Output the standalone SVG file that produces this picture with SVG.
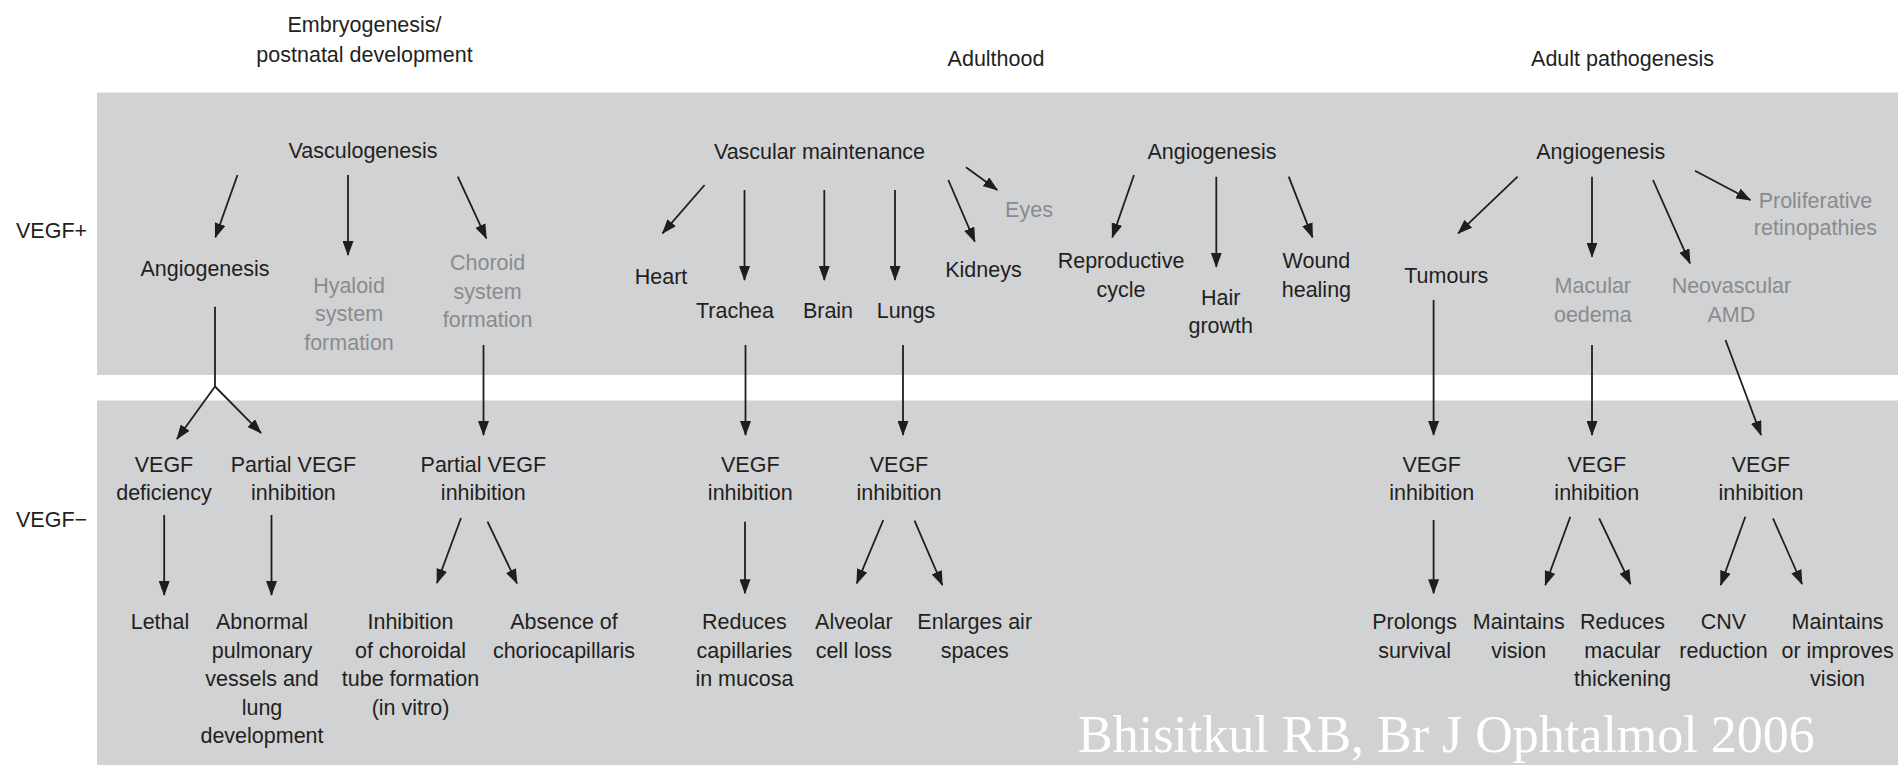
<svg xmlns="http://www.w3.org/2000/svg" width="1901" height="765" viewBox="0 0 1901 765">
<defs>
<marker id="ah" markerUnits="userSpaceOnUse" markerWidth="15" markerHeight="11" viewBox="0 0 15 11" refX="14" refY="5.5" orient="auto">
<path d="M0,0 L15,5.5 L0,11 z" fill="#1e1e1e"/>
</marker>
<style>
text{font-family:"Liberation Sans",Arial,sans-serif;font-size:21.5px;fill:#231f20;text-anchor:middle}
.g{fill:#8a8b8d}
.l{text-anchor:start}
.wm{font-family:"Liberation Serif","Times New Roman",serif;font-size:52px;fill:#ffffff;text-anchor:start}
.c line,.c path{stroke:#1e1e1e;stroke-width:1.8;fill:none}
.a{marker-end:url(#ah)}
.p{fill:#d1d2d4}
</style>
</defs>
<rect width="1901" height="765" fill="#ffffff"/>
<rect class="p" x="97" y="92.5" width="1801" height="282.5"/>
<rect class="p" x="97" y="400.5" width="1801" height="365"/>

<g id="headers">
<text x="364.5" y="32">Embryogenesis/</text>
<text x="364.5" y="62">postnatal development</text>
<text x="996" y="66">Adulthood</text>
<text x="1622.5" y="66">Adult pathogenesis</text>
</g>
<g id="side-labels">
<text class="l" x="16" y="238">VEGF+</text>
<text class="l" x="16" y="527">VEGF−</text>
</g>

<g class="c" id="connectors">
<line class="a" x1="237.5" y1="175" x2="215.4" y2="237.3"/>
<line class="a" x1="348" y1="175" x2="348" y2="255"/>
<line class="a" x1="457.8" y1="176.7" x2="486.3" y2="238.3"/>
<line x1="215" y1="306.7" x2="215" y2="386.5"/>
<line class="a" x1="215" y1="386.5" x2="177" y2="439"/>
<line class="a" x1="215" y1="386.5" x2="261" y2="433"/>
<line class="a" x1="483.5" y1="345" x2="483.5" y2="435"/>
<line class="a" x1="164.2" y1="515" x2="164.2" y2="595"/>
<line class="a" x1="271.5" y1="515" x2="271.5" y2="595"/>
<line class="a" x1="461" y1="518" x2="437" y2="583"/>
<line class="a" x1="487.5" y1="521.7" x2="517" y2="583.3"/>
<line class="a" x1="704.6" y1="185" x2="662.5" y2="233.3"/>
<line class="a" x1="744.5" y1="190" x2="744.5" y2="280"/>
<line class="a" x1="824.3" y1="190" x2="824.3" y2="280"/>
<line class="a" x1="895" y1="190" x2="895" y2="280"/>
<line class="a" x1="948.3" y1="180" x2="974.8" y2="241.7"/>
<line class="a" x1="966" y1="167.3" x2="997.3" y2="190"/>
<line class="a" x1="745.5" y1="345" x2="745.5" y2="435"/>
<line class="a" x1="903" y1="345" x2="903" y2="435"/>
<line class="a" x1="745" y1="521.7" x2="745" y2="593.3"/>
<line class="a" x1="883.3" y1="520" x2="856.8" y2="583.3"/>
<line class="a" x1="914.5" y1="520.7" x2="942.3" y2="585"/>
<line class="a" x1="1134" y1="175" x2="1112.3" y2="237.3"/>
<line class="a" x1="1216.3" y1="176.7" x2="1216.3" y2="266.7"/>
<line class="a" x1="1288.7" y1="176.7" x2="1312.5" y2="237.3"/>
<line class="a" x1="1517.6" y1="176.7" x2="1458.2" y2="233.3"/>
<line class="a" x1="1592" y1="176.7" x2="1592" y2="256.7"/>
<line class="a" x1="1653" y1="180" x2="1690" y2="263.3"/>
<line class="a" x1="1695" y1="170.7" x2="1750.4" y2="200"/>
<line class="a" x1="1433.6" y1="300" x2="1433.6" y2="435"/>
<line class="a" x1="1592" y1="345" x2="1592" y2="435"/>
<line class="a" x1="1725.5" y1="340" x2="1761" y2="435"/>
<line class="a" x1="1433.6" y1="520" x2="1433.6" y2="593.3"/>
<line class="a" x1="1570.3" y1="516.7" x2="1545.3" y2="585"/>
<line class="a" x1="1599.2" y1="518.3" x2="1630.5" y2="584"/>
<line class="a" x1="1745.3" y1="516.7" x2="1720.7" y2="585"/>
<line class="a" x1="1773" y1="518.3" x2="1802" y2="584"/>
</g>

<g id="n-vasculogenesis"><text x="363" y="158">Vasculogenesis</text></g>
<g id="n-angiogenesis1"><text x="205" y="276">Angiogenesis</text></g>
<g id="n-hyaloid"><text class="g" x="349" y="293">Hyaloid</text><text class="g" x="349" y="321">system</text><text class="g" x="349" y="350">formation</text></g>
<g id="n-choroid"><text class="g" x="487.6" y="270">Choroid</text><text class="g" x="487.6" y="298.5">system</text><text class="g" x="487.6" y="327">formation</text></g>
<g id="n-vascmaint"><text x="819.5" y="159">Vascular maintenance</text></g>
<g id="n-heart"><text x="661" y="284">Heart</text></g>
<g id="n-trachea"><text x="735" y="318">Trachea</text></g>
<g id="n-brain"><text x="828" y="318">Brain</text></g>
<g id="n-lungs"><text x="906" y="318">Lungs</text></g>
<g id="n-kidneys"><text x="983.5" y="277">Kidneys</text></g>
<g id="n-eyes"><text class="g" x="1029" y="217">Eyes</text></g>
<g id="n-angiogenesis2"><text x="1212" y="159">Angiogenesis</text></g>
<g id="n-reproductive"><text x="1121" y="268">Reproductive</text><text x="1121" y="297">cycle</text></g>
<g id="n-hair"><text x="1220.7" y="305">Hair</text><text x="1220.7" y="333">growth</text></g>
<g id="n-wound"><text x="1316.4" y="268">Wound</text><text x="1316.4" y="297">healing</text></g>
<g id="n-angiogenesis3"><text x="1600.8" y="159">Angiogenesis</text></g>
<g id="n-tumours"><text x="1446.3" y="283">Tumours</text></g>
<g id="n-macular"><text class="g" x="1592.8" y="293">Macular</text><text class="g" x="1592.8" y="322">oedema</text></g>
<g id="n-neovascular"><text class="g" x="1731.4" y="293">Neovascular</text><text class="g" x="1731.4" y="322">AMD</text></g>
<g id="n-proliferative"><text class="g" x="1815.4" y="208">Proliferative</text><text class="g" x="1815.4" y="235">retinopathies</text></g>

<g id="n-vegfdef"><text x="164" y="471.7">VEGF</text><text x="164" y="500">deficiency</text></g>
<g id="n-partial1"><text x="293.4" y="471.7">Partial VEGF</text><text x="293.4" y="500">inhibition</text></g>
<g id="n-partial2"><text x="483.3" y="471.7">Partial VEGF</text><text x="483.3" y="500">inhibition</text></g>
<g id="n-lethal"><text x="160" y="629">Lethal</text></g>
<g id="n-abnormal"><text x="262" y="629">Abnormal</text><text x="262" y="657.5">pulmonary</text><text x="262" y="686">vessels and</text><text x="262" y="714.5">lung</text><text x="262" y="743">development</text></g>
<g id="n-inhibition"><text x="410.5" y="629">Inhibition</text><text x="410.5" y="657.5">of choroidal</text><text x="410.5" y="686">tube formation</text><text x="410.5" y="714.5">(in vitro)</text></g>
<g id="n-absence"><text x="564" y="629">Absence of</text><text x="564" y="657.5">choriocapillaris</text></g>
<g id="n-inhib-t"><text x="750.3" y="471.7">VEGF</text><text x="750.3" y="500">inhibition</text></g>
<g id="n-inhib-l"><text x="899" y="471.7">VEGF</text><text x="899" y="500">inhibition</text></g>
<g id="n-reduces-cap"><text x="744.4" y="629">Reduces</text><text x="744.4" y="657.5">capillaries</text><text x="744.4" y="686">in mucosa</text></g>
<g id="n-alveolar"><text x="853.9" y="629">Alveolar</text><text x="853.9" y="657.5">cell loss</text></g>
<g id="n-enlarges"><text x="974.7" y="629">Enlarges air</text><text x="974.7" y="657.5">spaces</text></g>
<g id="n-inhib-tum"><text x="1431.7" y="471.7">VEGF</text><text x="1431.7" y="500">inhibition</text></g>
<g id="n-inhib-mac"><text x="1596.8" y="471.7">VEGF</text><text x="1596.8" y="500">inhibition</text></g>
<g id="n-inhib-amd"><text x="1761" y="471.7">VEGF</text><text x="1761" y="500">inhibition</text></g>
<g id="n-prolongs"><text x="1414.6" y="629">Prolongs</text><text x="1414.6" y="657.5">survival</text></g>
<g id="n-maintains1"><text x="1518.8" y="629">Maintains</text><text x="1518.8" y="657.5">vision</text></g>
<g id="n-reduces-mac"><text x="1622.5" y="629">Reduces</text><text x="1622.5" y="657.5">macular</text><text x="1622.5" y="686">thickening</text></g>
<g id="n-cnv"><text x="1723.5" y="629">CNV</text><text x="1723.5" y="657.5">reduction</text></g>
<g id="n-maintains2"><text x="1837.6" y="629">Maintains</text><text x="1837.6" y="657.5">or improves</text><text x="1837.6" y="686">vision</text></g>

<g id="watermark"><text class="wm" x="1078" y="752">Bhisitkul RB, Br J Ophtalmol 2006</text></g>
</svg>
